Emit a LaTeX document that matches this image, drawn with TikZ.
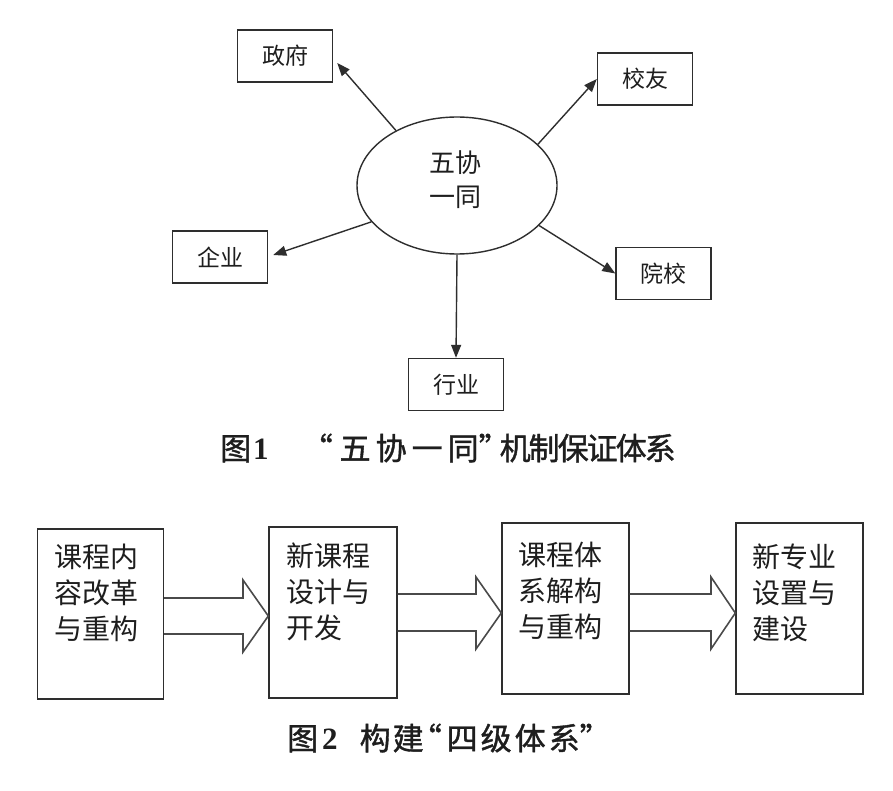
\documentclass[tikz,border=0pt]{standalone}
\usepackage{fontspec}
\setmainfont{Noto Sans CJK SC}
\newfontfamily\capfont[FakeBold=1.2]{Noto Sans CJK SC}
\newfontfamily\numfont{Liberation Serif}
\usetikzlibrary{arrows.meta,shapes.geometric,calc}
\definecolor{linec}{HTML}{2E2E2E}
\definecolor{txtc}{HTML}{1E1E1E}
\definecolor{blkc}{HTML}{4A4A4A}
\begin{document}
\begin{tikzpicture}[x=1pt,y=-1pt,
  box/.style={draw=linec, line width=1.4pt, inner sep=0, minimum width=95pt, minimum height=52pt,
    font=\fontsize{23}{26}\selectfont, text=txtc},
  conn/.style={draw=linec, line width=1.4pt, -{Triangle[length=13pt,width=10pt]}},
  big/.style={draw=linec, line width=1.4pt, inner sep=0, minimum width=127pt, minimum height=171pt},
  btext/.style={anchor=north west, inner sep=0, align=left, font=\fontsize{28}{36}\selectfont, text=txtc},
  blk/.style={draw=blkc, line width=1.6pt, line join=miter},
  captext/.style={inner sep=0, anchor=west, font=\capfont\fontsize{31}{31}\selectfont, text=txtc}]
\useasboundingbox (0,0) rectangle (893,791);
\fill[white] (0,0) rectangle (893,791);

% figure 1
\node[box] (zf) at (285,56) {政府};
\node[box] (xy) at (645,79) {校友};
\node[box] (qy) at (220,257) {企业};
\node[box] (yx) at (663.5,273.5) {院校};
\node[box] (hy) at (456,384.5) {行业};
\node[ellipse, draw=linec, line width=1.4pt, minimum width=200pt, minimum height=137pt, inner sep=0] (el) at (457,185.5) {};
\node[align=center, inner sep=0, font=\fontsize{26}{34}\selectfont, text=txtc] (elt) at (455,180) {五协\\一同};

\draw[conn] (el.138) -- ($(zf.east)+(4,7)$);
\draw[conn] (el.27) -- (xy.west);
\draw[conn] (el.203) -- ($(qy.east)+(5,-2)$);
\draw[conn] (el.-26) -- (yx.west);
\draw[conn] (el.south) -- (hy.north);

\node[captext] (c1) at (220,448) {图\hspace{2pt}{\numfont\bfseries 1}\hspace{33pt}“\hspace{7pt}五\hspace{5pt}协\hspace{5pt}一\hspace{5pt}同”\hspace{-10pt}机\hspace{-2pt}制\hspace{-2pt}保\hspace{-2pt}证\hspace{-2pt}体\hspace{-2pt}系};

% figure 2
\node[big, minimum width=126pt, minimum height=170pt] (b1) at (100.3,614) {};
\node[big, minimum width=128pt] (b2) at (333,612.5) {};
\node[big] (b3) at (565.5,608.5) {};
\node[big] (b4) at (799.5,608.5) {};

\node[btext] (t1) at ($(b1.north west)+(18,15)$) {课程内\\容改革\\与重构};
\node[btext] (t2) at ($(b2.north west)+(18,16)$) {新课程\\设计与\\开发};
\node[btext] (t3) at ($(b3.north west)+(17,20)$) {课程体\\系解构\\与重构};
\node[btext] (t4) at ($(b4.north west)+(17,21)$) {新专业\\设置与\\建设};

\draw[blk] (b1.east |- 0,598) -- (243,598) -- (243,580) -- (b2.west |- 0,616) -- (243,652) -- (243,634) -- (b1.east |- 0,634);
\draw[blk] (b2.east |- 0,594) -- (476,594) -- (476,577) -- (b3.west |- 0,613) -- (476,649) -- (476,631) -- (b2.east |- 0,631);
\draw[blk] (b3.east |- 0,594) -- (711,594) -- (711,577) -- (b4.west |- 0,613) -- (711,649) -- (711,631) -- (b3.east |- 0,631);

\node[captext] (c2) at (287,738) {图\hspace{4pt}{\numfont\bfseries 2}\hspace{22pt}构\hspace{2pt}建\hspace{-13pt}“\hspace{5pt}四\hspace{3pt}级\hspace{3pt}体\hspace{3pt}系”};
\end{tikzpicture}
\end{document}
